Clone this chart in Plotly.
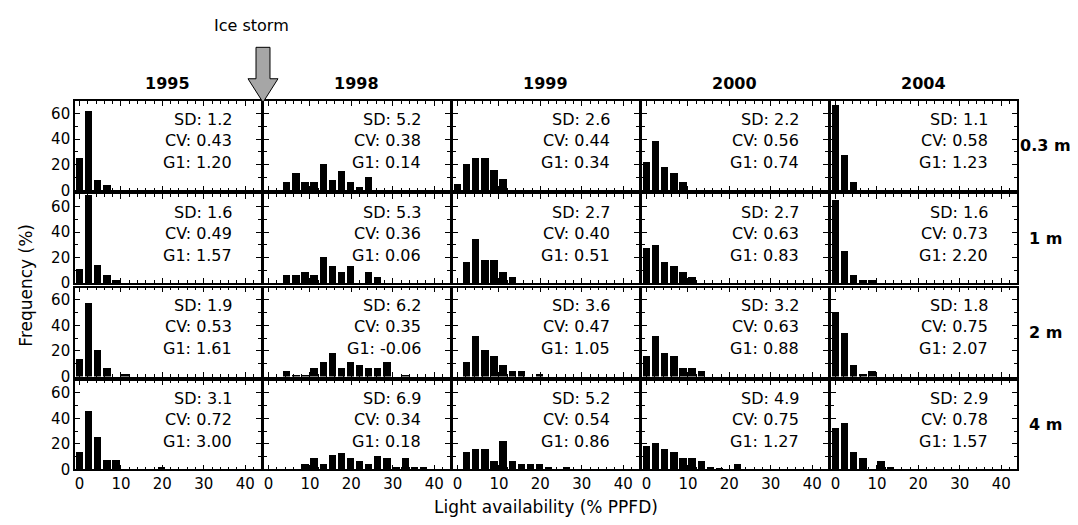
import plotly.graph_objects as go

# ---------------- data ----------------
years = ["1995", "1998", "1999", "2000", "2004"]
heights = ["0.3 m", "1 m", "2 m", "4 m"]
bin_centers = [0, 2.2, 4.4, 6.6, 8.8, 11.0, 13.2, 15.4, 17.6, 19.8,
               22.0, 24.2, 26.4, 28.6, 30.8, 33.0, 35.2, 37.4, 39.6]
x_ticks = [0, 10, 20, 30, 40]
y_ticks = [0, 20, 40, 60]

# frequency (%) per class, rows = 0.3 m, 1 m, 2 m, 4 m
freq_1995 = [
    [25, 62, 8, 4],
    [11, 69, 14, 6, 2],
    [14, 57.5, 21, 7.3, 0, 2],
    [14, 46, 25.5, 7.5, 7.5, 0, 0, 0, 0, 2],
]
freq_1998 = [
    [0, 0, 6, 13, 6, 6.5, 20, 8, 15, 6, 2, 10],
    [0, 0, 6.4, 6.4, 8.5, 6.4, 20.5, 13.3, 8.5, 13.3, 0, 8.5, 4.6],
    [0, 0, 4.4, 1.8, 1.8, 7, 11.5, 18.7, 7, 11.5, 9, 7, 7, 11.5, 0, 1.8],
    [0, 0, 0, 0, 4.6, 9, 5, 11.5, 13.6, 9.5, 7, 5, 11, 9.5, 2.5, 9, 2, 2],
]
freq_1999 = [
    [4.4, 20, 25, 25, 15.4, 8.2],
    [0, 16, 34, 18, 18, 8.5, 4.4],
    [0, 11.5, 32, 21, 16, 9, 4.6, 4.6, 0, 2.3],
    [0, 14, 16.4, 16.4, 7, 23, 7, 5, 5, 5, 2, 0, 2],
]
freq_2000 = [
    [22, 38.5, 18, 13.3, 6.4],
    [27, 29.5, 16, 13.6, 8.5, 4.4],
    [16, 32, 18.7, 16, 7, 7, 4.4],
    [18.7, 21, 16.4, 14, 9.5, 9.5, 7, 2.5, 1, 0, 5],
]
freq_2004 = [
    [66.5, 27, 6.4],
    [64.6, 25, 6.4, 2, 2],
    [50.5, 34.6, 9, 2, 4.4],
    [32.6, 37, 14, 9.5, 0, 7, 2],
]
freqs = [freq_1995, freq_1998, freq_1999, freq_2000, freq_2004]

sd = [["1.2", "1.6", "1.9", "3.1"],
      ["5.2", "5.3", "6.2", "6.9"],
      ["2.6", "2.7", "3.6", "5.2"],
      ["2.2", "2.7", "3.2", "4.9"],
      ["1.1", "1.6", "1.8", "2.9"]]
cv = [["0.43", "0.49", "0.53", "0.72"],
      ["0.38", "0.36", "0.35", "0.34"],
      ["0.44", "0.40", "0.47", "0.54"],
      ["0.56", "0.63", "0.63", "0.75"],
      ["0.58", "0.73", "0.75", "0.78"]]
g1 = [["1.20", "1.57", "1.61", "3.00"],
      ["0.14", "0.06", "-0.06", "0.18"],
      ["0.34", "0.51", "1.05", "0.86"],
      ["0.74", "0.83", "0.88", "1.27"],
      ["1.23", "2.20", "2.07", "1.57"]]

# ---------------- layout geometry ----------------
W, H = 1078, 525
FONT = "DejaVu Sans"
col_left = [67, 256, 445, 634, 823]
panel_w = 185.5
row_top = [95, 189.5, 284.5, 379]
panel_h = 90.5

fig = go.Figure()
annotations = []
layout = {}

for r in range(4):
    for c in range(5):
        idx = r * 5 + c + 1
        xname = "x" if idx == 1 else f"x{idx}"
        yname = "y" if idx == 1 else f"y{idx}"
        vals = freqs[c][r]
        fig.add_trace(go.Bar(
            x=bin_centers[:len(vals)], y=vals, width=1.75,
            marker=dict(color="black", line=dict(width=0)),
            xaxis=xname, yaxis=yname, showlegend=False,
            hoverinfo="x+y",
        ))
        x0 = col_left[c] / W
        x1 = (col_left[c] + panel_w) / W
        y1 = 1 - row_top[r] / H
        y0 = 1 - (row_top[r] + panel_h) / H
        layout["xaxis" if idx == 1 else f"xaxis{idx}"] = dict(
            domain=[x0, x1], anchor=yname, range=[-1.1, 43.7],
            tickvals=x_ticks, showticklabels=(r == 3),
            ticks="inside", ticklen=5, tickwidth=1, tickcolor="black",
            minor=dict(ticks="inside", dtick=2, tick0=0, ticklen=3, tickcolor="black"),
            showline=True, linewidth=1.6, linecolor="black", mirror="ticks",
            showgrid=False, zeroline=False,
            tickfont=dict(family=FONT, size=15, color="black"),
            fixedrange=True,
        )
        layout["yaxis" if idx == 1 else f"yaxis{idx}"] = dict(
            domain=[y0, y1], anchor=xname, range=[0, 69.5],
            tickvals=y_ticks, showticklabels=(c == 0),
            ticks="inside", ticklen=5, tickwidth=1, tickcolor="black",
            minor=dict(ticks="inside", dtick=10, tick0=0, ticklen=3, tickcolor="black"),
            showline=True, linewidth=1.6, linecolor="black", mirror="ticks",
            showgrid=False, zeroline=False,
            tickfont=dict(family=FONT, size=15, color="black"),
            fixedrange=True,
        )
        # stats text
        for txt, ypos in ((f"SD: {sd[c][r]}", 0.80), (f"CV: {cv[c][r]}", 0.558), (f"G1: {g1[c][r]}", 0.315)):
            annotations.append(dict(
                text=txt, xref=f"{xname} domain", yref=f"{yname} domain",
                x=0.855, y=ypos, xanchor="right", yanchor="middle",
                showarrow=False, font=dict(family=FONT, size=16, color="black"),
            ))

# column headers
for c, yr in enumerate(years):
    annotations.append(dict(
        text=f"<b>{yr}</b>", xref="paper", yref="paper",
        x=(col_left[c] + panel_w / 2) / W, y=1 - 77 / H,
        xanchor="center", yanchor="middle", showarrow=False,
        font=dict(family=FONT, size=16, color="black"),
    ))
# row labels
for r, h in enumerate(heights):
    annotations.append(dict(
        text=f"<b>{h}</b>", xref="paper", yref="paper",
        x=1037 / W, y=1 - (row_top[r] + panel_h / 2) / H,
        xanchor="center", yanchor="middle", showarrow=False,
        font=dict(family=FONT, size=16, color="black"),
    ))
# axis titles
annotations.append(dict(
    text="Frequency (%)", xref="paper", yref="paper",
    x=18 / W, y=1 - 282.5 / H, textangle=-90,
    xanchor="center", yanchor="middle", showarrow=False,
    font=dict(family=FONT, size=17, color="black"),
))
annotations.append(dict(
    text="Light availability (% PPFD)", xref="paper", yref="paper",
    x=538 / W, y=1 - 508 / H,
    xanchor="center", yanchor="middle", showarrow=False,
    font=dict(family=FONT, size=17, color="black"),
))
annotations.append(dict(
    text="Ice storm", xref="paper", yref="paper",
    x=243 / W, y=1 - 18 / H,
    xanchor="center", yanchor="middle", showarrow=False,
    font=dict(family=FONT, size=16, color="black"),
))

# arrow (ice storm marker)
pts = [(248, 40), (262, 40), (262, 72), (270, 72), (255, 96), (240, 72), (248, 72)]
path = "M " + " L ".join(f"{px / W:.5f},{1 - py / H:.5f}" for px, py in pts) + " Z"
shapes = [dict(type="path", xref="paper", yref="paper", path=path,
               fillcolor="#a6a6a6", line=dict(color="black", width=1))]

fig.update_layout(
    width=W, height=H, autosize=False,
    margin=dict(l=0, r=0, t=0, b=0),
    paper_bgcolor="white", plot_bgcolor="white",
    bargap=0, annotations=annotations, shapes=shapes,
    font=dict(family=FONT, color="black"),
    **layout,
)

fig.write_html("out.html")
